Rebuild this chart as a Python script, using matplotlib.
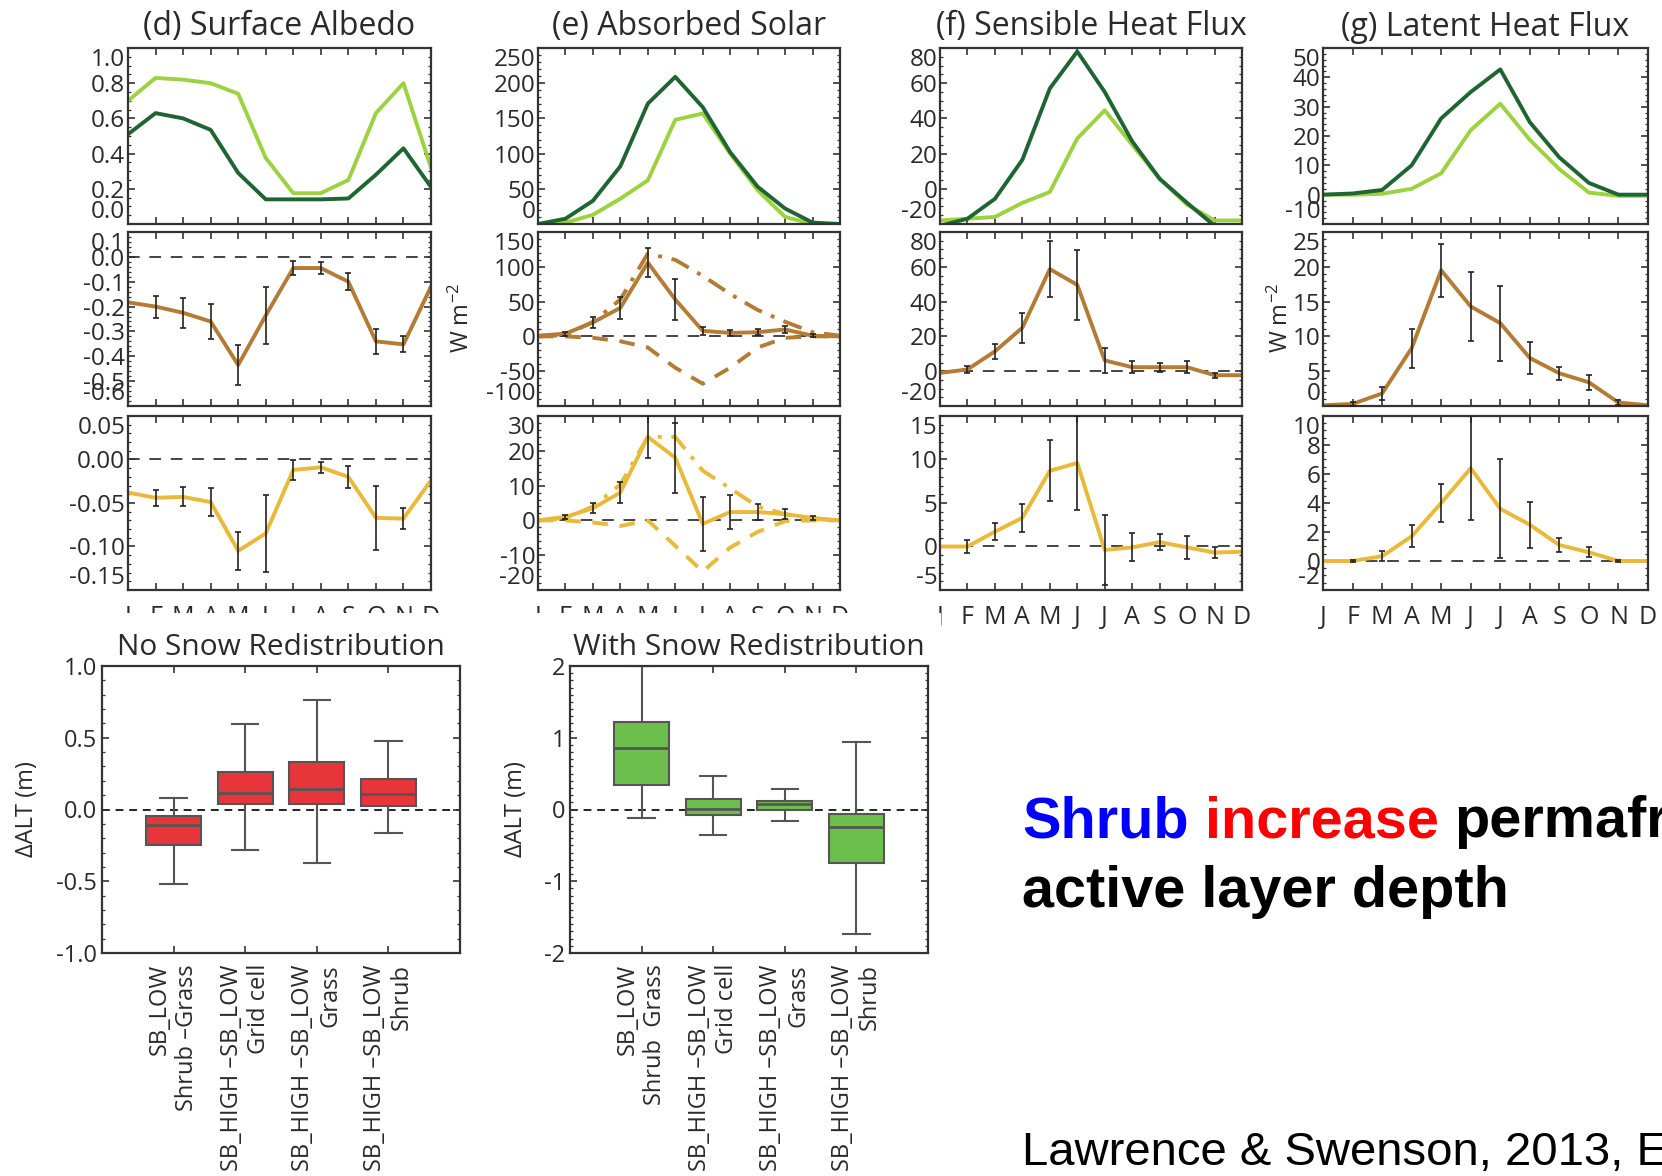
import matplotlib
matplotlib.use("Agg")
import matplotlib.pyplot as plt
import matplotlib.patches as mpatches
from matplotlib.ticker import MultipleLocator, FormatStrFormatter
import numpy as np

plt.rcParams['font.family'] = ['Open Sans', 'DejaVu Sans']
plt.rcParams['axes.unicode_minus'] = False
plt.rcParams['mathtext.default'] = 'regular'

# ---------------- data ----------------
months = np.arange(1, 13)
monthLabels = ['J', 'F', 'M', 'A', 'M', 'J', 'J', 'A', 'S', 'O', 'N', 'D']
errMonths = months[1:-1]   # error bars Feb..Nov

# (d) surface albedo
albedoShrub = [0.51, 0.63, 0.60, 0.535, 0.29, 0.14, 0.14, 0.14, 0.145, 0.28, 0.43, 0.21]
albedoGrass = [0.70, 0.83, 0.82, 0.80, 0.74, 0.375, 0.175, 0.175, 0.25, 0.63, 0.80, 0.32]
albedoDiffNoRedist = [-0.183, -0.20, -0.225, -0.26, -0.435, -0.236, -0.045, -0.045, -0.10, -0.34, -0.352, -0.12]
albedoErrNoRedist = [0.044, 0.06, 0.07, 0.08, 0.115, 0.028, 0.024, 0.034, 0.05, 0.032]
albedoDiffRedist = [-0.038, -0.044, -0.043, -0.049, -0.105, -0.085, -0.012, -0.009, -0.02, -0.067, -0.068, -0.024]
albedoErrRedist = [0.009, 0.011, 0.016, 0.022, 0.044, 0.011, 0.006, 0.013, 0.037, 0.012]

# (e) absorbed solar
solarShrub = [0, 7.5, 33, 82, 171, 209, 166, 102, 53, 22, 2, 0]
solarGrass = [0, 2, 13, 36, 62, 148, 157, 100, 48, 10, 0, 0]
solarDiffNoRedist = [1, 4, 20, 41, 106, 53, 8, 5, 6, 10, 1, 0]
solarErrNoRedist = [3, 8, 16, 21, 30, 6, 4, 4, 5, 2]
solarSnowNoRedist = [0, 2, 21, 53, 119, 110, 87, 61, 38, 21, 6, 1]
solarVegNoRedist = [0, 0, -2, -7, -16, -45, -68, -45, -16, -2, 0, 0]
solarDiffRedist = [0, 1, 3.5, 8, 24, 18, -1, 2.4, 2.4, 1.8, 0.7, 0]
solarErrRedist = [0.5, 1.5, 3.1, 6, 10, 7.7, 5, 2.3, 1.5, 0.5]
solarSnowRedist = [0, 0.6, 4, 10.3, 24, 24, 14.3, 9.2, 4, 1.8, 0.4, 0]
solarVegRedist = [0, 0, -0.6, -1.6, 0, -7.3, -14.7, -7.8, -3.3, -0.2, 0, 0]

# (f) sensible heat flux
shShrub = [-21, -17, -5.7, 16.5, 57, 78, 55, 27, 5.7, -8, -21, -21]
shGrass = [-18, -17, -16, -8, -1.8, 28.6, 44.6, 25, 5.7, -9, -18, -18]
shDiffNoRedist = [-1, 1, 11.4, 25, 58.7, 49.6, 6.2, 2.3, 2.3, 2.3, -2.3, -2.3]
shErrNoRedist = [2, 4.5, 8.6, 16, 20, 7, 3.4, 2.5, 3.4, 1.5]
shDiffRedist = [0, 0, 1.7, 3.3, 8.7, 9.6, -0.4, -0.1, 0.5, -0.1, -0.7, -0.6]
shErrRedist = [0.8, 1, 1.6, 3.5, 5.4, 4.0, 1.6, 0.9, 1.3, 0.6]

# (g) latent heat flux
lhShrub = [0, 0.4, 1.6, 10, 26, 35, 42.7, 24.7, 12.7, 4, 0, 0]
lhGrass = [0, 0, 0.3, 2, 7.3, 22, 31, 18.7, 8.7, 0.7, -0.4, -0.4]
lhDiffNoRedist = [0.1, 0.3, 1.8, 8.3, 19.5, 14.3, 11.9, 6.9, 4.7, 3.4, 0.5, 0.1]
lhErrNoRedist = [0.3, 0.9, 2.8, 3.8, 5, 5.4, 2.3, 0.9, 1.1, 0.4]
lhDiffRedist = [0, 0, 0.33, 1.7, 4, 6.4, 3.6, 2.5, 1.1, 0.6, 0, 0]
lhErrRedist = [0.1, 0.35, 0.75, 1.3, 3.6, 3.4, 1.6, 0.5, 0.35, 0.1]

# delta ALT box plots (whisker low, q1, median, q3, whisker high)
boxLabelsNoRedist = ['SB_LOW\nShrub \u2013Grass', 'SB_HIGH \u2013SB_LOW\nGrid cell',
                     'SB_HIGH \u2013SB_LOW\nGrass', 'SB_HIGH \u2013SB_LOW\nShrub']
boxLabelsRedist = ['SB_LOW\nShrub  Grass', 'SB_HIGH \u2013SB_LOW\nGrid cell',
                   'SB_HIGH \u2013SB_LOW\nGrass', 'SB_HIGH \u2013SB_LOW\nShrub']
altLowNoRedist = [-0.52, -0.284, -0.373, -0.165]
altQ1NoRedist = [-0.247, 0.037, 0.037, 0.025]
altMedNoRedist = [-0.11, 0.116, 0.14, 0.106]
altQ3NoRedist = [-0.044, 0.264, 0.333, 0.215]
altHighNoRedist = [0.079, 0.593, 0.765, 0.474]
altLowRedist = [-0.12, -0.36, -0.158, -1.73]
altQ1Redist = [0.346, -0.074, 0.0, -0.74]
altMedRedist = [0.854, 0.01, 0.074, -0.237]
altQ3Redist = [1.22, 0.148, 0.123, -0.06]
altHighRedist = [2.0, 0.47, 0.29, 0.94]

# ---------------- style ----------------
darkGreen = '#1f6433'
lightGreen = '#9cd23f'
brown = '#b47b35'
gold = '#e9b93a'
boxRed = '#e8353a'
boxGreen = '#6cbf4c'
axisGray = '#333333'
textGray = '#2a2a2a'

W, H = 1662, 1176
fig = plt.figure(figsize=(W / 100, H / 100), dpi=100)
lineAxes = []


def addAxes(x0, y0, x1, y1):
    # pixel box -> figure fraction
    return fig.add_axes([x0 / W, 1 - y1 / H, (x1 - x0) / W, (y1 - y0) / H])


def styleAxes(ax, ylim, major, minor, fmt):
    ax.set_xlim(1, 12)
    ax.set_ylim(*ylim)
    ax.set_xticks(months)
    ax.yaxis.set_major_locator(MultipleLocator(major))
    ax.yaxis.set_minor_locator(MultipleLocator(minor))
    ax.yaxis.set_major_formatter(FormatStrFormatter(fmt))
    ax.tick_params(which='both', direction='in', top=True, right=True,
                   colors=axisGray, labelsize=17.5, pad=2, labelcolor=textGray)
    ax.tick_params(which='major', length=5, width=1.2)
    ax.tick_params(which='minor', length=2.5, width=0.9)
    ax.tick_params(axis='x', labelbottom=False)
    for s in ax.spines.values():
        s.set_linewidth(1.6)
        s.set_color(axisGray)
    lineAxes.append(ax)


def zeroLine(ax):
    ax.axhline(0, color='#444444', lw=1.4, ls=(0, (6, 5)), zorder=1)


colX = [(128, 431), (538, 840), (940, 1242), (1323, 1648)]
rowY = [(48, 224), (232, 406), (416, 590)]
titles = ['(d) Surface Albedo', '(e) Absorbed Solar', '(f) Sensible Heat Flux', '(g) Latent Heat Flux']

topData = [(albedoShrub, albedoGrass), (solarShrub, solarGrass), (shShrub, shGrass), (lhShrub, lhGrass)]
midData = [(albedoDiffNoRedist, albedoErrNoRedist), (solarDiffNoRedist, solarErrNoRedist),
           (shDiffNoRedist, shErrNoRedist), (lhDiffNoRedist, lhErrNoRedist)]
botData = [(albedoDiffRedist, albedoErrRedist), (solarDiffRedist, solarErrRedist),
           (shDiffRedist, shErrRedist), (lhDiffRedist, lhErrRedist)]

limits = [
    [((0, 1.0), 0.2, 0.05, '%.1f'), ((-0.6, 0.1), 0.1, 0.02, '%.1f'), ((-0.15, 0.05), 0.05, 0.01, '%.2f')],
    [((0, 250), 50, 10, '%d'), ((-100, 150), 50, 10, '%d'), ((-20, 30), 10, 2, '%d')],
    [((-20, 80), 20, 5, '%d'), ((-20, 80), 20, 5, '%d'), ((-5, 15), 5, 1, '%d')],
    [((-10, 50), 10, 2, '%d'), ((0, 25), 5, 1, '%d'), ((-2, 10), 2, 0.5, '%d')],
]

for c in range(4):
    x0, x1 = colX[c]
    # top: shrub vs grass
    ax = addAxes(x0, rowY[0][0], x1, rowY[0][1])
    styleAxes(ax, *limits[c][0])
    ax.plot(months, topData[c][1], color=lightGreen, lw=2.8)
    ax.plot(months, topData[c][0], color=darkGreen, lw=2.8)
    ax.set_title(titles[c], fontsize=23, color=textGray, pad=9)

    # middle: no snow redistribution difference
    ax = addAxes(x0, rowY[1][0], x1, rowY[1][1])
    styleAxes(ax, *limits[c][1])
    zeroLine(ax)
    if c == 1:
        ax.plot(months, solarSnowNoRedist, color=brown, lw=2.8, ls=(0, (5, 2.5, 1, 2.5)))
        ax.plot(months, solarVegNoRedist, color=brown, lw=2.8, ls=(0, (4, 3)))
    ax.plot(months, midData[c][0], color=brown, lw=2.8)
    ax.errorbar(errMonths, midData[c][0][1:-1], yerr=midData[c][1], fmt='none',
                ecolor='#222222', elinewidth=1.2, capsize=2.5, capthick=1.2, zorder=3)

    # bottom: with snow redistribution difference
    ax = addAxes(x0, rowY[2][0], x1, rowY[2][1])
    styleAxes(ax, *limits[c][2])
    zeroLine(ax)
    if c == 1:
        ax.plot(months, solarSnowRedist, color=gold, lw=2.8, ls=(0, (5, 2.5, 1, 2.5)))
        ax.plot(months, solarVegRedist, color=gold, lw=2.8, ls=(0, (4, 3)))
    ax.plot(months, botData[c][0], color=gold, lw=2.8)
    ax.errorbar(errMonths, botData[c][0][1:-1], yerr=botData[c][1], fmt='none',
                ecolor='#222222', elinewidth=1.2, capsize=2.5, capthick=1.2, zorder=3)
    ax.tick_params(axis='x', labelbottom=True, labelsize=18, pad=11)
    ax.set_xticklabels(monthLabels)

fig.text(462 / W, 1 - 318 / H, 'W m$^{-2}$', rotation=90, fontsize=17,
         color=textGray, ha='center', va='center')
fig.text(1281 / W, 1 - 318 / H, 'W m$^{-2}$', rotation=90, fontsize=17,
         color=textGray, ha='center', va='center')

# the lower pictures were pasted over the month labels of (d) and (e)
fig.add_artist(mpatches.Rectangle((0, 0), 941 / W, 1 - 613 / H, transform=fig.transFigure,
                                  facecolor='white', edgecolor='none', zorder=1))


def boxPanel(box, title, labelX, labels, lows, q1s, meds, q3s, highs, color,
             ylim, major, minor, fmt):
    ax = addAxes(*box)
    ax.set_zorder(2)
    stats = [dict(whislo=lo, q1=a, med=m, q3=b, whishi=hi, fliers=[])
             for lo, a, m, b, hi in zip(lows, q1s, meds, q3s, highs)]
    ax.axhline(0, color='#222222', lw=1.4, ls=(0, (4, 3)), zorder=1)
    ax.bxp(stats, positions=[1, 2, 3, 4], widths=0.77, capwidths=0.37, patch_artist=True,
           showfliers=False,
           boxprops=dict(facecolor=color, edgecolor='#555555', lw=1.5),
           medianprops=dict(color='#555555', lw=2),
           whiskerprops=dict(color='#555555', lw=1.5),
           capprops=dict(color='#555555', lw=1.5), zorder=2)
    ax.set_xlim(0, 5)
    ax.set_ylim(*ylim)
    ax.set_xticks([1, 2, 3, 4])
    ax.set_xticklabels(labels, rotation=90, ha='center', va='top', multialignment='right',
                       fontsize=16.5, color=textGray, linespacing=1.15)
    ax.yaxis.set_major_locator(MultipleLocator(major))
    ax.yaxis.set_minor_locator(MultipleLocator(minor))
    ax.yaxis.set_major_formatter(FormatStrFormatter(fmt))
    ax.tick_params(which='both', direction='in', top=True, right=True, colors=axisGray,
                   labelsize=17, labelcolor=textGray)
    ax.tick_params(which='major', length=5, width=1.2)
    ax.tick_params(which='minor', length=2.5, width=0.9)
    ax.tick_params(axis='x', pad=8)
    for s in ax.spines.values():
        s.set_linewidth(1.6)
        s.set_color(axisGray)
    ax.set_title(title, fontsize=21.5, color=textGray, pad=8)
    ax.set_ylabel('\u0394ALT (m)', fontsize=17, color=textGray)
    ax.yaxis.set_label_coords(labelX, 0.5)
    return ax


boxPanel((102, 666, 460, 953), 'No Snow Redistribution', -0.175, boxLabelsNoRedist,
         altLowNoRedist, altQ1NoRedist, altMedNoRedist, altQ3NoRedist, altHighNoRedist,
         boxRed, (-1.0, 1.0), 0.5, 0.1, '%.1f')
boxPanel((570, 666, 928, 953), 'With Snow Redistribution', -0.117, boxLabelsRedist,
         altLowRedist, altQ1Redist, altMedRedist, altQ3Redist, altHighRedist,
         boxGreen, (-2, 2), 1, 0.1, '%d')

fig.canvas.draw()
renderer = fig.canvas.get_renderer()

# end labels of each small panel sit inside the axis range, as in the original plots
for ax in lineAxes:
    lo, hi = ax.get_ylim()
    for tick in ax.yaxis.get_major_ticks():
        loc = tick.get_loc()
        if abs(loc - lo) < 1e-6 * max(1.0, abs(hi - lo)):
            tick.label1.set_verticalalignment('bottom')
        elif abs(loc - hi) < 1e-6 * max(1.0, abs(hi - lo)):
            tick.label1.set_verticalalignment('top')

# headline text, coloured word by word
headFont = dict(family=['Liberation Sans', 'DejaVu Sans'], weight='bold', fontsize=41.5)
spaceW = 0.278 * 41.5 * 100 / 72
xPos = 1022
for word, col in [('Shrub', '#0000ff'), ('increase', '#ff0000'), ('permafrost', '#000000')]:
    t = fig.text(xPos / W, 1 - 837 / H, word, color=col, ha='left', va='baseline', **headFont)
    xPos += t.get_window_extent(renderer).width + spaceW
fig.text(1022 / W, 1 - 907 / H, 'active layer depth', color='#000000', ha='left',
         va='baseline', **headFont)
fig.text(1022 / W, 1 - 1165 / H, 'Lawrence & Swenson, 2013, ERL', color='#000000', ha='left',
         va='baseline', family=['Liberation Sans', 'DejaVu Sans'], fontsize=34)

fig.savefig('out.png', dpi=100, facecolor='white')
